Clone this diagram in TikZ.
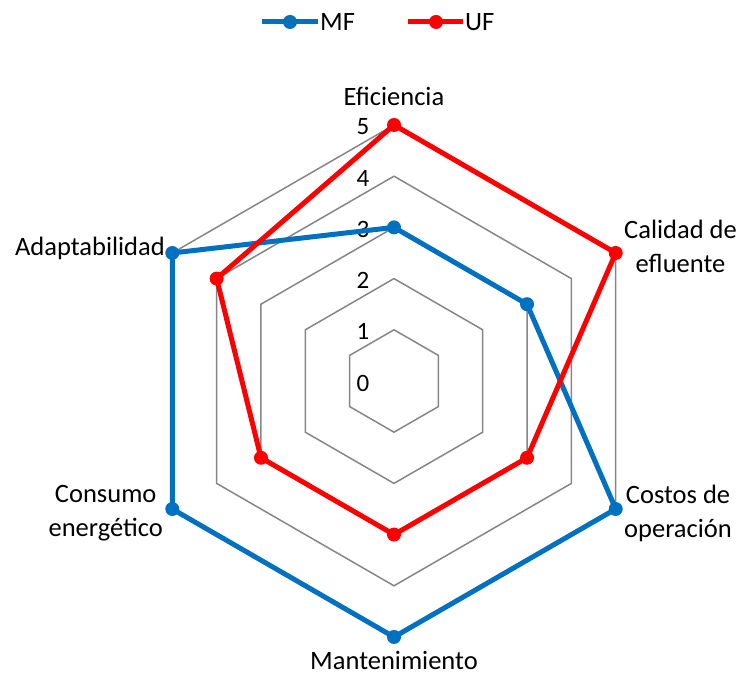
\documentclass[tikz,border=0pt]{standalone}
\usepackage{fontspec}
\setmainfont{Carlito}
\definecolor{mfblue}{HTML}{0070C0}
\definecolor{ufred}{HTML}{FF0000}
\definecolor{gridgray}{HTML}{868686}
\begin{document}
\begin{tikzpicture}[x=1pt,y=1pt,
  gridline/.style={draw=gridgray, line width=1.5pt, line join=miter},
  series/.style={line width=5pt, line join=round},
  dot/.style={circle, fill, inner sep=0pt, minimum size=14pt},
  lab/.style={font=\fontsize{26.5}{34}\selectfont, align=center, inner sep=0pt},
  ticklab/.style={font=\fontsize{25}{28}\selectfont, inner sep=0pt}]
\useasboundingbox (0,0) rectangle (742,674);

% legend
\coordinate (mfA) at (262,652);
\coordinate (mfB) at (318,652);
\draw[mfblue, line width=5pt] (mfA) -- (mfB);
\node[dot, fill=mfblue] (mfkey) at (290,652) {};
\node[lab, anchor=west] (mftext) at (320,652) {MF};
\coordinate (ufA) at (408,652);
\coordinate (ufB) at (463,652);
\draw[ufred, line width=5pt] (ufA) -- (ufB);
\node[dot, fill=ufred] (ufkey) at (436,652) {};
\node[lab, anchor=west] (uftext) at (465,652) {UF};

\begin{scope}[shift={(394,293)}]
  % hexagonal grid, levels 1 to 5
  \foreach \r in {1,...,5}
    \draw[gridline] (90:{\r*51.2}) -- (30:{\r*51.2}) -- (-30:{\r*51.2})
      -- (-90:{\r*51.2}) -- (-150:{\r*51.2}) -- (150:{\r*51.2}) -- cycle;
  % scale labels
  \foreach \r in {0,...,5}
    \node[ticklab] (tick\r) at (-31,{\r*51.2-2}) {\r};

  % category labels
  \node[lab] (eficiencia) at (0,285) {Eficiencia};
  \node[lab, anchor=west] (calidad) at (230,135) {Calidad de\\efluente};
  \node[lab, anchor=west] (costos) at (230,-132) {Costos de\\operación};
  \node[lab, anchor=base, text depth=0pt] (mantenimiento) at (0,-289) {Mantenimiento};
  \node[lab, anchor=east] (consumo) at (-231,-132) {Consumo\\energético};
  \node[lab, anchor=east] (adaptabilidad) at (-229,133) {Adaptabilidad};

  % data: MF = 3,3,5,5,5,5 ; UF = 5,5,3,3,3,4
  \coordinate (mf0) at (90:{3*51.2});
  \coordinate (mf1) at (30:{3*51.2});
  \coordinate (mf2) at (-30:{5*51.2});
  \coordinate (mf3) at (-90:{5*51.2});
  \coordinate (mf4) at (-150:{5*51.2});
  \coordinate (mf5) at (150:{5*51.2});
  \coordinate (uf0) at (90:{5*51.2});
  \coordinate (uf1) at (30:{5*51.2});
  \coordinate (uf2) at (-30:{3*51.2});
  \coordinate (uf3) at (-90:{3*51.2});
  \coordinate (uf4) at (-150:{3*51.2});
  \coordinate (uf5) at (150:{4*51.2});

  \draw[series, mfblue] (mf0) -- (mf1) -- (mf2) -- (mf3) -- (mf4) -- (mf5) -- cycle;
  \foreach \i in {0,...,5} \node[dot, fill=mfblue] (mfdot\i) at (mf\i) {};
  \draw[series, ufred] (uf0) -- (uf1) -- (uf2) -- (uf3) -- (uf4) -- (uf5) -- cycle;
  \foreach \i in {0,...,5} \node[dot, fill=ufred] (ufdot\i) at (uf\i) {};
\end{scope}
\end{tikzpicture}
\end{document}
